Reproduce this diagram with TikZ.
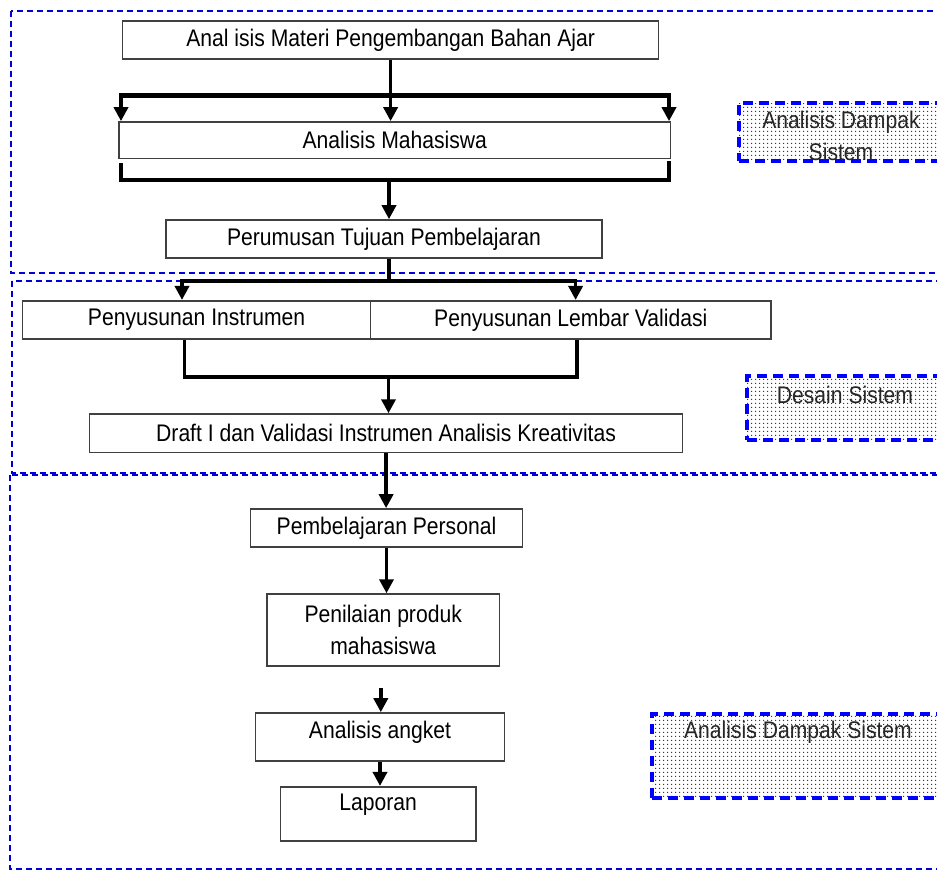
\documentclass[tikz,border=0pt]{standalone}
\usepackage{fontspec}
\setmainfont[FakeStretch=0.88]{Liberation Sans}
\usetikzlibrary{arrows.meta,patterns.meta,calc}
\begin{document}
\begin{tikzpicture}[x=1pt,y=-1pt,
  box/.style={draw=black!75, line width=1.6pt, fill=white, inner sep=0pt,
    font=\fontsize{24}{32}\selectfont, align=center},
  frame/.style={draw=blue!85!black, line width=1.7pt, dash pattern=on 6pt off 4pt},
  note/.style={draw=blue, line width=3.5pt, dash pattern=on 10pt off 6pt,
    pattern={Dots[distance=4pt,radius=0.85pt]}, pattern color=black!85, inner sep=0pt},
  notetext/.style={font=\fontsize{24}{30}\selectfont, text=black!85, inner sep=0pt},
  conn/.style={line width=3.5pt, draw=black},
  arr/.style={conn, -{Triangle[width=14pt,length=14pt]}},
  bar/.style={line width=5pt, draw=black},
  thinbar/.style={line width=3.5pt, draw=black}
]
\clip (0,0) rectangle (937,871);
\fill[white] (0,0) rectangle (937,871);

% section frames
\draw[frame] (11,11) rectangle (950,273);
\draw[frame] (12,281) rectangle (950,473);
\draw[frame] (10,475) rectangle (950,869);

% side notes
\node[note, minimum width=226pt, minimum height=58pt] (a1) at (852,132) {};
\node[notetext] (a1t) at (841,122) {Analisis Dampak};
\node[notetext] (a1s) at (841,152) {Sistem};
\node[note, minimum width=218pt, minimum height=64pt] (a2) at (856,408) {};
\node[notetext] (a2t) at (845,395) {Desain Sistem};
\node[note, minimum width=313pt, minimum height=84pt] (a3) at (808.5,756) {};
\node[notetext] (a3t) at (798,732) {Analisis Dampak Sistem};

% boxes
\node[box, minimum width=536pt, minimum height=38pt] (n1) at (390.6,40) {Anal isis Materi Pengembangan Bahan Ajar};
\node[box, minimum width=551.6pt, minimum height=36.7pt] (n2) at (394.8,140.3) {Analisis Mahasiswa};
\node[box, minimum width=436pt, minimum height=38pt] (n3) at (384,239) {Perumusan Tujuan Pembelajaran};
\node[box, minimum width=347.9pt, minimum height=38.3pt] (n4) at (196.6,319.9) {Penyusunan Instrumen};
\node[box, minimum width=400.4pt, minimum height=38.3pt] (n5) at (570.8,319.9) {Penyusunan Lembar Validasi};
\node[box, minimum width=592.9pt, minimum height=38.3pt] (n6) at (386.1,433.2) {Draft I dan Validasi Instrumen Analisis Kreativitas};
\node[box, minimum width=271.7pt, minimum height=38.3pt] (n7) at (386.5,528.1) {Pembelajaran Personal};
\node[box, minimum width=232.4pt, minimum height=71.7pt] (n8) at (383.2,629.9) {Penilaian produk\\mahasiswa};
\node[box, minimum width=248.8pt, minimum height=48pt] (n9) at (380,737) {\raisebox{4.5pt}[\height][\depth]{Analisis angket}};
\node[box, minimum width=195.2pt, minimum height=54.3pt] (n10) at (378.1,813.9) {\raisebox{9pt}[\height][\depth]{Laporan}};

% fork below box 1
\coordinate (f1L) at (121,95);
\coordinate (f1R) at (669,95);
\coordinate (f1M) at (n1.south |- f1L);
\draw[conn] (n1.south) -- (f1M);
\draw[bar] ($(f1L)+(-1.75,0)$) -- ($(f1R)+(1.75,0)$);
\draw[arr] (f1L) -- (f1L |- n2.north);
\draw[arr] (f1M) -- (f1M |- n2.north);
\draw[arr] (f1R) -- (f1R |- n2.north);

% join below box 2
\coordinate (g1L) at (121,163);
\coordinate (g2L) at (121,180);
\coordinate (g2R) at (669,180);
\coordinate (g1R) at (669,161);
\coordinate (g2M) at (389,180);
\draw[line width=4.5pt, line join=miter] (g1L) -- (g2L) -- (g2R) -- (g1R);
\draw[arr] (g2M) -- (g2M |- n3.north);

% fork below box 3
\coordinate (h1L) at (182,281);
\coordinate (h1R) at (575.6,281);
\coordinate (h1M) at (389,281);
\draw[conn] (h1M |- n3.south) -- (h1M);
\draw[thinbar] ($(h1L)+(-1.75,0)$) -- ($(h1R)+(1.75,0)$);
\draw[arr] (h1L) -- (h1L |- n4.north);
\draw[arr] (h1R) -- (h1R |- n5.north);

% join below boxes 4 and 5
\coordinate (k2) at (184.7,377);
\coordinate (k3) at (576.8,377);
\coordinate (kM) at (388.5,377);
\draw[thinbar, line join=miter] (k2 |- n4.south) -- (k2) -- (k3) -- (k3 |- n5.south);
\draw[arr] (kM) -- (kM |- n6.north);

% lower chain
\draw[arr] (n6.south) -- (n6.south |- n7.north);
\draw[arr] (n7.south) -- (n7.south |- n8.north);
\coordinate (m1) at (380.8,688);
\draw[arr] (m1) -- (m1 |- n9.north);
\draw[arr] (n9.south) -- (n9.south |- n10.north);
\end{tikzpicture}
\end{document}
